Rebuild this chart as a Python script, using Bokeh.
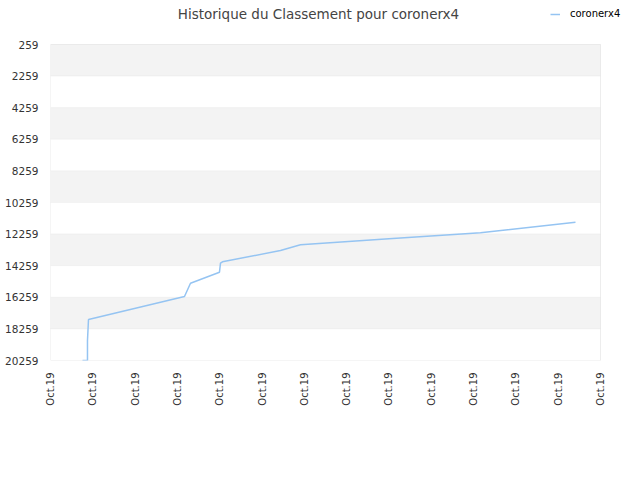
import math
from bokeh.plotting import figure
from bokeh.models import Range1d, FixedTicker, BoxAnnotation, Legend, LegendItem, Label
from bokeh.embed import file_html
from bokeh.resources import INLINE

# data (x in tick-index units, y = rank)
xs = [0.756, 0.874, 0.874, 0.898, 3.167, 3.309, 3.994, 4.018, 4.065, 5.436, 5.909, 8.0, 10.163, 12.409]
ranks = [20259, 20259, 18993, 17664, 16208, 15366, 14670, 14101, 14012, 13297, 12936, 12560, 12177, 11506]
y_ticks = [259, 2259, 4259, 6259, 8259, 10259, 12259, 14259, 16259, 18259, 20259]
x_ticks = list(range(14))
x_labels = ["Oct.19"] * 14
title_text = "Historique du Classement pour coronerx4"
series_name = "coronerx4"

FONT = "DejaVu Sans"

# layout: plot box 50..600 x 44..360 px; frame extended to the top/right edges
W, H = 640, 480
BOX_L, BOX_R, BOX_T, BOX_B = 50, 600, 44, 360
x0, x1 = x_ticks[0], x_ticks[-1]
y_lo, y_hi = y_ticks[-1], y_ticks[0]
x_end = x1 + (x1 - x0) * (W - BOX_R) / (BOX_R - BOX_L)
y_end = y_hi - (y_lo - y_hi) * BOX_T / (BOX_B - BOX_T)

p = figure(width=W, height=H, output_backend="svg", toolbar_location=None, title=None,
           x_range=Range1d(x0, x_end), y_range=Range1d(y_lo, y_end),
           min_border_left=BOX_L, min_border_right=0, min_border_top=0, min_border_bottom=H - BOX_B)

p.outline_line_color = None
p.background_fill_color = "white"
p.xgrid.visible = False
p.ygrid.visible = False

for i in range(len(y_ticks) - 1):
    p.add_layout(BoxAnnotation(left=x0, right=x1, bottom=y_ticks[i], top=y_ticks[i + 1],
                               fill_color="#f3f3f3" if i % 2 == 0 else "white", fill_alpha=1,
                               line_color="#e6e6e6", line_width=1, level="underlay"))
p.add_layout(BoxAnnotation(left=x0, right=x1, bottom=y_lo, top=y_hi, fill_alpha=0,
                           line_color="#d8d8d8", line_width=1, level="underlay"))

p.yaxis.ticker = FixedTicker(ticks=y_ticks)
p.xaxis.ticker = FixedTicker(ticks=x_ticks)
p.xaxis.major_label_overrides = {t: l for t, l in zip(x_ticks, x_labels)}
p.xaxis.major_label_orientation = math.pi / 2
for ax in (p.xaxis, p.yaxis):
    ax.axis_line_color = None
    ax.major_tick_line_color = None
    ax.minor_tick_line_color = None
    ax.major_tick_out = 0
    ax.major_label_text_font = FONT
    ax.major_label_text_color = "#333333"
p.xaxis.major_label_text_font_size = "10px"
p.yaxis.major_label_text_font_size = "10.5px"
p.xaxis.major_label_standoff = 12
p.yaxis.major_label_standoff = 12

r = p.line(xs, ranks, line_color="#95c4f2", line_width=1.5)

p.add_layout(Label(x=268, y=BOX_B - 13, x_units="screen", y_units="screen", text=title_text,
                   text_align="center", text_baseline="middle", text_font=FONT,
                   text_font_size="13.5px", text_color="#444444"))

legend = Legend(items=[LegendItem(label=series_name, renderers=[r])],
                orientation="horizontal", location=(500, BOX_B - 19),
                border_line_color=None, background_fill_alpha=0,
                label_text_font=FONT, label_text_font_size="10px", label_text_color="#000000",
                glyph_width=10, glyph_height=10, padding=2, margin=0, label_standoff=10)
p.add_layout(legend, "center")

open("out.html", "w").write(file_html(p, INLINE))
